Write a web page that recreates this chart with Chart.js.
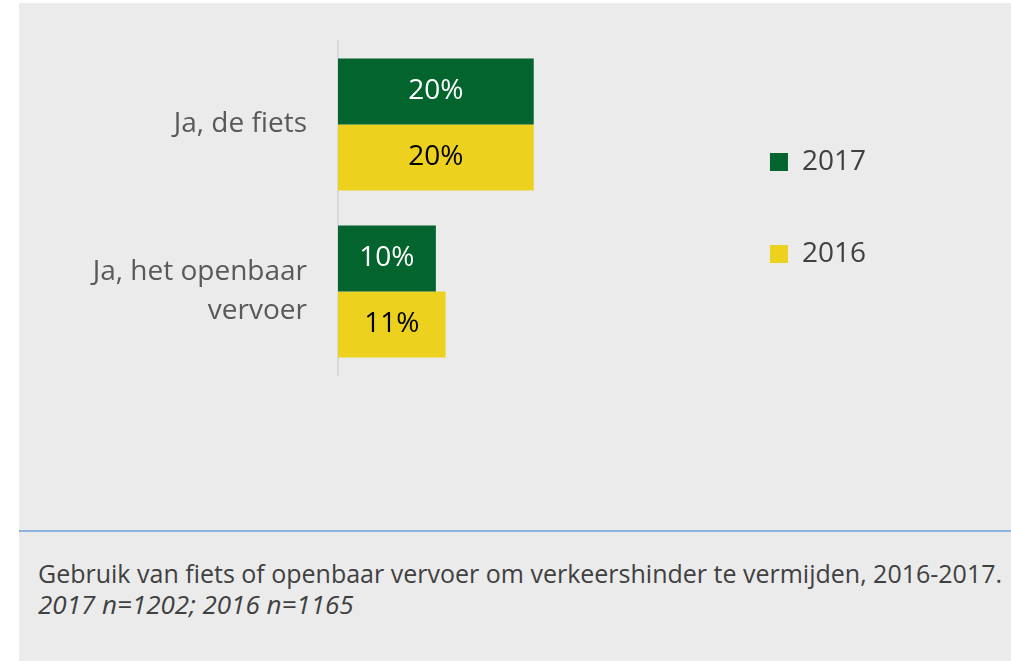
<!DOCTYPE html>
<html>
<head>
<meta charset="utf-8">
<script src="https://cdn.jsdelivr.net/npm/chart.js@4.4.1/dist/chart.umd.min.js"></script>
<style>
  html, body { margin: 0; padding: 0; background: #ffffff; }
  #panel { position: absolute; left: 19px; top: 3px; width: 992px; height: 658px; background: #ebebeb; }
  #chartBox { position: absolute; left: 0; top: 0; width: 992px; height: 525px; }
  #caption {
    position: absolute; left: 0; top: 527px; width: 992px; height: 131px;
    border-top: 2px solid #8db4e2;
    font-family: 'Open Sans', sans-serif; font-size: 25px; line-height: 31px; color: #404040;
    padding-left: 19px; padding-top: 26px; box-sizing: border-box; white-space: nowrap;
  }
  #caption i { display: block; font-size: 26px; }
</style>
</head>
<body>
<div id="panel">
  <div id="chartBox"><canvas id="chart"></canvas></div>
  <div id="caption">
    Gebruik van fiets of openbaar vervoer om verkeershinder te vermijden, 2016-2017.
    <i>2017 n=1202; 2016 n=1165</i>
  </div>
</div>
<script>
const categories = ['Ja, de fiets', ['Ja, het openbaar', 'vervoer']];
const seriesNames = ['2017', '2016'];
const values2017 = [20, 10];
const values2016 = [20, 11];

document.addEventListener('DOMContentLoaded', () => {
    const fontFamily = "'Open Sans', sans-serif";

    // values written in the middle of each bar
    const barLabels = {
        id: 'barLabels',
        afterDatasetsDraw(chart) {
            const ctx = chart.ctx;
            ctx.save();
            ctx.font = '28px ' + fontFamily;
            ctx.textAlign = 'center';
            ctx.textBaseline = 'middle';
            chart.data.datasets.forEach((ds, i) => {
                const meta = chart.getDatasetMeta(i);
                ctx.fillStyle = i === 0 ? '#ffffff' : '#000000';
                meta.data.forEach((bar, j) => {
                    const cx = (bar.x + bar.base) / 2;
                    ctx.fillText(ds.data[j] + '%', cx, bar.y);
                });
            });
            ctx.restore();
        }
    };

    new Chart(document.getElementById('chart'), {
        type: 'bar',
        data: {
            labels: categories,
            datasets: [
                { label: seriesNames[0], data: values2017, backgroundColor: '#03652d' },
                { label: seriesNames[1], data: values2016, backgroundColor: '#ecd21e' }
            ]
        },
        options: {
            indexAxis: 'y',
            responsive: true,
            maintainAspectRatio: false,
            animation: false,
            barPercentage: 1,
            categoryPercentage: 0.79,
            layout: { padding: { top: 38, bottom: 153, left: 0, right: 135 } },
            scales: {
                x: { display: false, min: 0, max: 37.6 },
                y: {
                    grid: { display: false, drawTicks: false },
                    border: { display: true, color: '#d9d9d9', width: 2 },
                    ticks: { color: '#595959', padding: 31, font: { family: fontFamily, size: 28, lineHeight: 1.36 } },
                    afterFit: (scale) => {
                        scale.width = 319;
                        scale.paddingTop = 0;
                        scale.paddingBottom = 0;
                    }
                }
            },
            plugins: {
                legend: {
                    position: 'right',
                    labels: {
                        color: '#404040',
                        boxWidth: 18,
                        boxHeight: 18,
                        padding: 64,
                        font: { family: fontFamily, size: 28 }
                    }
                },
                tooltip: { enabled: false }
            }
        },
        plugins: [barLabels]
    });
});
</script>
</body>
</html>
